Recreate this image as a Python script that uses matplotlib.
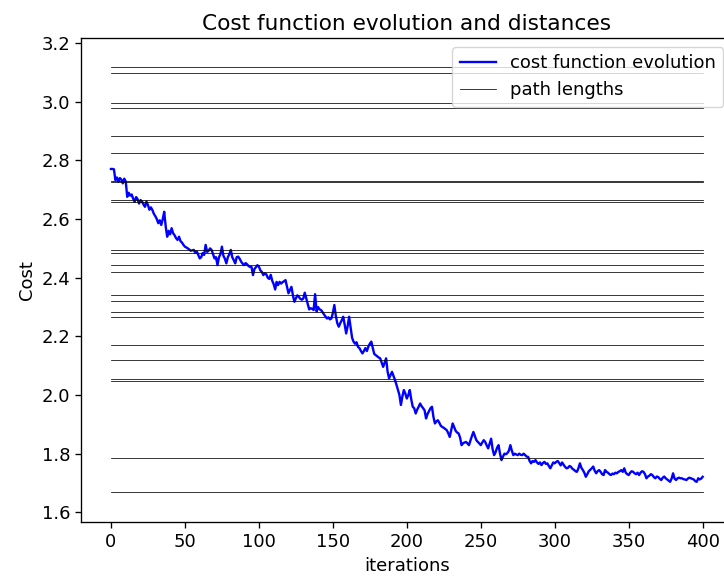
import numpy as np
import matplotlib
matplotlib.use('Agg')
import matplotlib.pyplot as plt

# path lengths (horizontal reference lines)
path_lengths = [3.118, 3.098, 2.995, 2.978, 2.883, 2.826, 2.730, 2.727,
                2.664, 2.660, 2.495, 2.483, 2.443, 2.418, 2.340, 2.319,
                2.282, 2.265, 2.169, 2.119, 2.054, 2.048, 1.785, 1.668]

# cost function evolution (iterations 0..299)
iters_a = [0, 1, 2, 3, 4, 5, 6, 7, 8, 9, 10, 11,
           12, 13, 14, 15, 16, 17, 18, 19, 20, 21, 22, 23, 24, 25, 26, 27, 28, 29,
           30, 31, 32, 33, 34, 35, 36, 37, 38, 39, 40, 41, 42, 43, 44, 45, 46, 47, 48, 49, 50,
           52, 54, 56, 57, 58, 59, 60, 61, 62, 63, 64, 65, 66, 67, 68, 69, 70,
           71, 72, 73, 74, 75, 76, 77, 78, 79, 80, 81, 82, 83, 84, 85, 86, 87, 88, 89, 90,
           91, 92, 93, 94, 95, 96, 97, 98, 99, 100, 101, 102, 103,
           104, 105, 106, 107, 108, 109, 110, 111, 112, 113, 114, 115, 116, 117, 118, 119,
           120, 121, 122, 123, 124,
           125, 126, 127, 128, 129, 130, 131, 132, 133, 134, 135, 136, 137, 138, 139, 140,
           141, 142, 143, 144, 145, 146, 147, 148, 149, 150, 151, 152, 153, 154, 155, 156,
           157, 158, 159, 160, 161, 162, 163, 164,
           165, 166, 167, 168, 169, 170, 171, 172, 173, 174, 175, 176, 177, 178, 179, 180,
           181, 182, 183, 184, 185, 186, 187, 188, 189, 190, 191, 192, 193, 194, 195, 196,
           197, 198, 199, 200, 201, 202, 203, 204,
           205, 206, 207, 208, 209, 210, 211, 212, 213, 214, 215, 216, 217, 218, 219, 220,
           221, 222, 223, 224, 225, 226, 227, 228, 229, 230, 231, 232, 233, 234, 235, 236,
           237, 238, 239, 240,
           241, 242, 243, 244, 245, 246, 247, 248, 249, 250, 251, 252, 253, 254, 255, 256,
           257, 258, 259, 260, 261, 262, 263, 264, 265, 266, 267, 268, 269, 270, 271, 272,
           273, 274, 275, 276, 277, 278, 279, 280, 281, 282, 283, 284, 285, 286, 287, 288,
           289, 290, 291, 292, 293, 294, 295, 296, 297, 298, 299]

cost_a = [2.771, 2.771, 2.770, 2.733, 2.742, 2.728, 2.740, 2.735, 2.722, 2.738, 2.728, 2.676,
          2.690, 2.680, 2.684, 2.670, 2.659, 2.675, 2.668, 2.653, 2.665, 2.660, 2.650, 2.642,
          2.660, 2.648, 2.632, 2.640, 2.631, 2.618,
          2.610, 2.600, 2.586, 2.596, 2.580, 2.600, 2.625, 2.575, 2.540, 2.560, 2.548, 2.569,
          2.552, 2.545, 2.535, 2.529, 2.540, 2.525, 2.520, 2.512, 2.506,
          2.500, 2.492, 2.495, 2.485, 2.490, 2.478, 2.466, 2.470, 2.484, 2.478, 2.512, 2.488,
          2.492, 2.500, 2.495, 2.480, 2.466,
          2.470, 2.443, 2.470, 2.480, 2.506, 2.475, 2.465, 2.449, 2.470, 2.480, 2.495, 2.470,
          2.460, 2.449, 2.470, 2.472, 2.465, 2.455, 2.448, 2.443,
          2.450, 2.446, 2.440, 2.437, 2.437, 2.409, 2.430, 2.436, 2.443, 2.438, 2.425, 2.420, 2.409,
          2.415, 2.412, 2.400, 2.396, 2.410, 2.390, 2.378, 2.360, 2.386, 2.375, 2.386, 2.380,
          2.385, 2.388, 2.392, 2.370,
          2.347, 2.358, 2.369, 2.340, 2.318,
          2.330, 2.340, 2.335, 2.328, 2.325, 2.329, 2.349, 2.330, 2.310, 2.292, 2.296, 2.294,
          2.290, 2.344, 2.285, 2.300,
          2.292, 2.290, 2.283, 2.275, 2.268, 2.261, 2.265, 2.258, 2.261, 2.280, 2.307, 2.270,
          2.245, 2.233, 2.245, 2.255,
          2.267, 2.240, 2.210, 2.235, 2.267, 2.230, 2.195, 2.182,
          2.175, 2.180, 2.164, 2.160, 2.150, 2.142, 2.150, 2.160, 2.150, 2.165, 2.175, 2.182,
          2.160, 2.140, 2.136, 2.132,
          2.128, 2.125, 2.110, 2.096, 2.110, 2.125, 2.080, 2.057, 2.068, 2.079, 2.065, 2.051,
          2.035, 2.017, 2.000, 1.966,
          1.995, 2.017, 2.005, 1.988, 2.000, 2.017, 1.985, 1.960,
          1.955, 1.937, 1.950, 1.960, 1.971, 1.962, 1.955, 1.948, 1.920, 1.935, 1.945, 1.955,
          1.960, 1.925, 1.903, 1.910,
          1.914, 1.905, 1.895, 1.891, 1.888, 1.884, 1.880, 1.870, 1.857, 1.880, 1.903, 1.890,
          1.878, 1.872, 1.869, 1.855,
          1.829, 1.835, 1.838, 1.840,
          1.835, 1.829, 1.845, 1.860, 1.874, 1.860, 1.846, 1.840, 1.835, 1.829, 1.838, 1.846,
          1.840, 1.828, 1.818, 1.835,
          1.851, 1.815, 1.795, 1.805, 1.820, 1.829, 1.800, 1.778, 1.790, 1.800, 1.798, 1.802,
          1.810, 1.829, 1.810, 1.795,
          1.800, 1.797, 1.795, 1.800, 1.796, 1.795, 1.800, 1.795, 1.790, 1.789, 1.775, 1.767,
          1.775, 1.772, 1.778, 1.770,
          1.765, 1.770, 1.761, 1.768, 1.772, 1.765, 1.767, 1.758, 1.750, 1.760, 1.770]

# iterations 300..400
iters_b = list(range(300, 401))
cost_b = [1.767, 1.772, 1.775, 1.768, 1.760, 1.770, 1.762, 1.755, 1.750, 1.752,
          1.758, 1.755, 1.748, 1.745, 1.740, 1.738, 1.750, 1.767, 1.752, 1.744,
          1.735, 1.721, 1.730, 1.740, 1.745, 1.750, 1.756, 1.742, 1.733, 1.740,
          1.744, 1.738, 1.730, 1.727, 1.744, 1.738, 1.735, 1.730, 1.727, 1.732,
          1.730, 1.735, 1.733, 1.738, 1.740, 1.744, 1.738, 1.750, 1.735, 1.730,
          1.727, 1.735, 1.740, 1.738, 1.733, 1.730, 1.735, 1.727, 1.735, 1.740,
          1.738, 1.730, 1.716, 1.722, 1.725, 1.730, 1.727, 1.720, 1.716, 1.722,
          1.720, 1.714, 1.710, 1.718, 1.722, 1.716, 1.712, 1.708, 1.704, 1.715,
          1.733, 1.715, 1.710, 1.716, 1.718, 1.716, 1.716, 1.713, 1.712, 1.710,
          1.715, 1.718, 1.716, 1.714, 1.712, 1.706, 1.704, 1.716, 1.712, 1.715,
          1.721]

iters = iters_a + iters_b
cost = cost_a + cost_b

fig = plt.figure(figsize=(7.24, 5.79), dpi=100)
ax = fig.add_axes([0.1124, 0.098, 0.899, 0.836])

ax.plot(iters, cost, color='blue', lw=1.7, label='cost function evolution')
for k, d in enumerate(path_lengths):
    ax.plot([0, 400], [d, d], color='k', lw=0.55,
            label='path lengths' if k == 0 else None)

ax.set_xlim(-20, 420)
ax.set_ylim(1.566, 3.217)
ax.set_xticks(np.arange(0, 401, 50))
ax.set_yticks(np.arange(1.6, 3.21, 0.2))
ax.tick_params(labelsize=13, width=0.96, length=4.5)
for s in ax.spines.values():
    s.set_linewidth(0.96)

ax.set_title('Cost function evolution and distances', fontsize=15.6)
ax.set_xlabel('iterations', fontsize=13)
ax.set_ylabel('Cost', fontsize=13)
ax.legend(loc='upper right', fontsize=13)

fig.savefig('out.png', dpi=100)
